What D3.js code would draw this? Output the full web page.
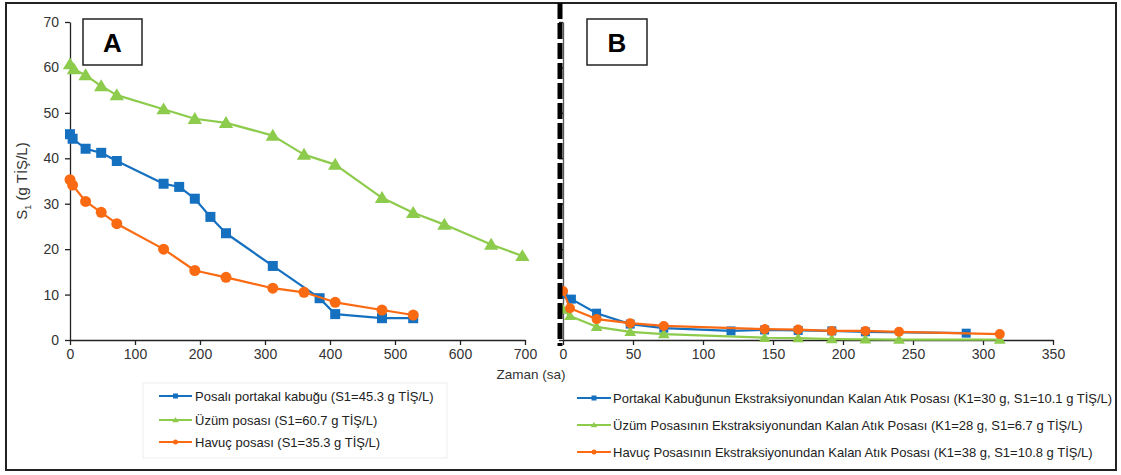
<!DOCTYPE html>
<html>
<head>
<meta charset="utf-8">
<script src="https://cdn.jsdelivr.net/npm/d3@7"></script>
<style>
  html, body { margin: 0; padding: 0; background: #fff; }
  svg { display: block; font-family: "Liberation Sans", Arial, sans-serif; }
</style>
</head>
<body>
<svg id="chart" width="1121" height="475"></svg>
<script>
// ---- Panel A: batch runs (time in hours, S1 in g TİŞ/L) ----
const timeA_portakal = [0, 4, 24, 48, 72, 144, 168, 192, 216, 240, 312, 384, 408, 480, 528];
const valA_portakal  = [45.3, 44.3, 42.1, 41.2, 39.4, 34.4, 33.7, 31.1, 27.1, 23.5, 16.3, 9.2, 5.7, 4.8, 4.8];
const timeA_uzum     = [0, 6, 24, 48, 72, 144, 192, 240, 312, 360, 408, 480, 528, 576, 648, 696];
const valA_uzum      = [60.7, 59.6, 58.3, 55.9, 53.9, 50.8, 48.7, 47.8, 45.0, 40.8, 38.6, 31.3, 28.0, 25.4, 21.0, 18.5];
const timeA_havuc    = [0, 4, 24, 48, 72, 144, 192, 240, 312, 360, 408, 480, 528];
const valA_havuc     = [35.3, 34.1, 30.5, 28.1, 25.6, 20.0, 15.3, 13.8, 11.4, 10.5, 8.3, 6.6, 5.5];

// ---- Panel B: residual pulp after extraction ----
const timeB_portakal = [0, 6, 24, 48, 72, 120, 144, 168, 192, 216, 288];
const valB_portakal  = [10.1, 9.0, 5.9, 3.5, 2.6, 2.0, 2.2, 2.1, 2.0, 1.8, 1.5];
const timeB_uzum     = [0, 5, 24, 48, 72, 144, 168, 192, 216, 240, 312];
const valB_uzum      = [6.7, 5.3, 2.9, 1.8, 1.3, 0.5, 0.4, 0.2, 0.15, 0.1, 0.1];
const timeB_havuc    = [0, 5, 24, 48, 72, 144, 168, 192, 216, 240, 312];
const valB_havuc     = [10.8, 7.0, 4.6, 3.7, 3.1, 2.4, 2.3, 2.0, 2.0, 1.8, 1.3];

// axis ticks
const yTicks  = [0, 10, 20, 30, 40, 50, 60, 70];
const xTicksA = [0, 100, 200, 300, 400, 500, 600, 700];
const xTicksB = [0, 50, 100, 150, 200, 250, 300, 350];

// legend texts
const legendA = [
  "Posalı portakal kabuğu (S1=45.3 g TİŞ/L)",
  "Üzüm posası (S1=60.7 g TİŞ/L)",
  "Havuç posası (S1=35.3 g TİŞ/L)"
];
const legendB = [
  "Portakal Kabuğunun Ekstraksiyonundan Kalan Atık Posası (K1=30 g, S1=10.1 g TİŞ/L)",
  "Üzüm Posasının Ekstraksiyonundan Kalan Atık Posası (K1=28 g, S1=6.7 g TİŞ/L)",
  "Havuç Posasının Ekstraksiyonundan Kalan Atık Posası (K1=38 g, S1=10.8 g TİŞ/L)"
];

const colors  = ["#1570C0", "#8CCB4C", "#FA6A12"];
const markers = ["square", "triangle", "circle"];

const svg = d3.select("#chart");

// outer frame
svg.append("rect").attr("x", 6).attr("y", 3).attr("width", 1110).attr("height", 467)
  .attr("fill", "none").attr("stroke", "#222").attr("stroke-width", 2);

const y  = d3.scaleLinear().domain([0, 70]).range([340, 22]);
const xA = d3.scaleLinear().domain([0, 700]).range([70, 525]);
const xB = d3.scaleLinear().domain([0, 350]).range([563, 1053]);

function styleAxis(g) {
  g.select(".domain").attr("stroke", "#222").attr("stroke-width", 1.3);
  g.selectAll(".tick line").attr("stroke", "#222").attr("stroke-width", 1.3);
  g.selectAll(".tick text").attr("fill", "#333").style("font-size", "14px")
    .style("font-family", "'Liberation Sans', Arial, sans-serif");
}

// Panel A axes
svg.append("g").attr("transform", "translate(70,0)")
  .call(d3.axisLeft(y).tickValues(yTicks).tickSize(5).tickSizeOuter(0).tickPadding(6))
  .call(styleAxis);
svg.append("g").attr("transform", "translate(0,340)")
  .call(d3.axisBottom(xA).tickValues(xTicksA).tickSize(5).tickSizeOuter(0).tickPadding(4))
  .call(styleAxis);

// Panel B axes
const gyB = svg.append("g").attr("transform", "translate(563,0)")
  .call(d3.axisLeft(y).tickValues(yTicks).tickSize(4).tickSizeOuter(0).tickFormat(""))
  .call(styleAxis);
gyB.select(".domain").attr("stroke", "#555");
svg.append("g").attr("transform", "translate(0,340)")
  .call(d3.axisBottom(xB).tickValues(xTicksB).tickSize(5).tickSizeOuter(0).tickPadding(4))
  .call(styleAxis);

// Y axis title
const yt = svg.append("text").attr("transform", "translate(27,181) rotate(-90)")
  .attr("text-anchor", "middle").attr("fill", "#333").style("font-size", "15px");
yt.append("tspan").text("S");
yt.append("tspan").attr("dy", 4).style("font-size", "9px").text("1");
yt.append("tspan").attr("dy", -4).text(" (g TİŞ/L)");

// X axis title
svg.append("text").attr("x", 531).attr("y", 379).attr("text-anchor", "middle")
  .attr("fill", "#333").style("font-size", "13.5px").text("Zaman (sa)");

// marker drawing
function drawMarker(sel, type, size, color) {
  if (type === "square") {
    sel.append("rect").attr("x", -size / 2).attr("y", -size / 2)
      .attr("width", size).attr("height", size).attr("fill", color);
  } else if (type === "triangle") {
    const s = size * 0.62;
    sel.append("path").attr("d", `M0,${-s}L${s * 1.05},${s * 0.75}L${-s * 1.05},${s * 0.75}Z`).attr("fill", color);
  } else {
    sel.append("circle").attr("r", size / 2).attr("fill", color);
  }
}

function drawSeries(xs, times, vals, color, marker, size) {
  const pts = times.map((t, i) => [t, vals[i]]);
  const line = d3.line().x(d => xs(d[0])).y(d => y(d[1]));
  const g = svg.append("g");
  g.append("path").attr("d", line(pts)).attr("fill", "none")
    .attr("stroke", color).attr("stroke-width", 2.2).attr("stroke-linejoin", "round");
  g.selectAll("g.pt").data(pts).enter().append("g").attr("class", "pt")
    .attr("transform", d => `translate(${xs(d[0])},${y(d[1])})`)
    .each(function () { drawMarker(d3.select(this), marker, size, color); });
}

// Panel A series
drawSeries(xA, timeA_portakal, valA_portakal, colors[0], markers[0], 10);
drawSeries(xA, timeA_uzum, valA_uzum, colors[1], markers[1], 11);
drawSeries(xA, timeA_havuc, valA_havuc, colors[2], markers[2], 11);

// Panel B series
drawSeries(xB, timeB_portakal, valB_portakal, colors[0], markers[0], 9);
drawSeries(xB, timeB_uzum, valB_uzum, colors[1], markers[1], 9);
drawSeries(xB, timeB_havuc, valB_havuc, colors[2], markers[2], 10);

// panel divider (thick dashed line)
svg.append("line").attr("x1", 560).attr("x2", 560).attr("y1", 3).attr("y2", 346)
  .attr("stroke", "#000").attr("stroke-width", 5).attr("stroke-dasharray", "16,4");

// panel letters
function letterBox(x, w, label) {
  svg.append("rect").attr("x", x).attr("y", 19).attr("width", w).attr("height", 46)
    .attr("fill", "#fff").attr("stroke", "#222").attr("stroke-width", 1.5);
  svg.append("text").attr("x", x + w / 2).attr("y", 52).attr("text-anchor", "middle")
    .attr("fill", "#000").style("font-size", "26px").style("font-weight", "bold")
    .style("font-family", "'Liberation Sans', Arial, sans-serif").text(label);
}
letterBox(83, 59, "A");
letterBox(587, 60, "B");

// legends
function legend(x0, x1, tx, ys, texts, fs) {
  texts.forEach((t, i) => {
    const g = svg.append("g");
    g.append("line").attr("x1", x0).attr("x2", x1).attr("y1", ys[i]).attr("y2", ys[i])
      .attr("stroke", colors[i]).attr("stroke-width", 2.2);
    const m = g.append("g").attr("transform", `translate(${(x0 + x1) / 2},${ys[i]})`);
    drawMarker(m, markers[i], 5, colors[i]);
    g.append("text").attr("x", tx).attr("y", ys[i] + 4.5).attr("fill", "#222")
      .style("font-size", fs).text(t);
  });
}
svg.append("rect").attr("x", 143).attr("y", 383).attr("width", 304).attr("height", 75)
  .attr("fill", "none").attr("stroke", "#eeeeee").attr("stroke-width", 1);
legend(159, 192, 195, [396, 420, 442], legendA, "13px");
legend(577, 611, 613, [398, 425, 452], legendB, "13px");
</script>
</body>
</html>
